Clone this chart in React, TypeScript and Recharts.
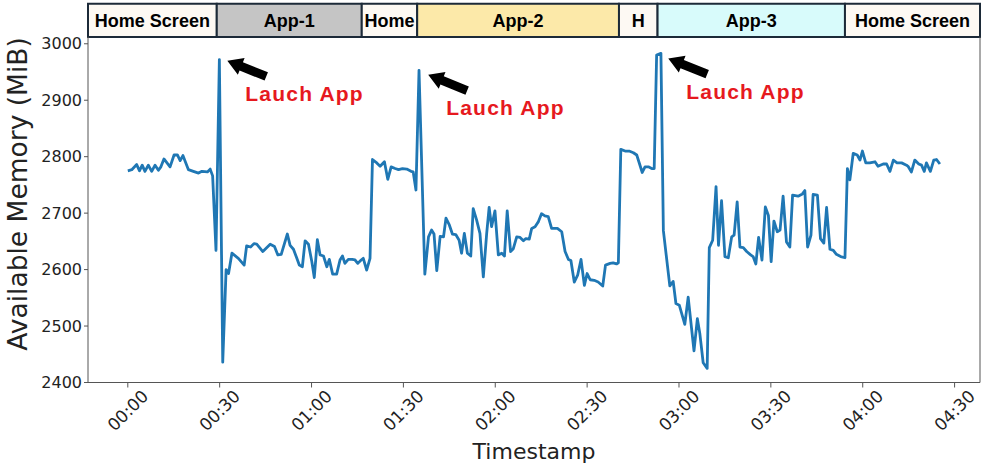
import { Label, Line, LineChart, ReferenceArea, ReferenceDot, ReferenceLine, XAxis, YAxis } from "recharts";

// sample time (s) and available memory (MiB)
const times = [
  0, 1.3, 2.9, 3.8, 4.7, 5.6, 6.7, 7.8, 8.9, 10.0, 10.8, 11.8, 13.8, 15.1, 16.2, 17.1, 18.0, 19.8, 21.4, 23.1,
  24.2, 26.0, 26.9, 27.7, 28.8, 29.9, 31.0, 32.1, 32.9, 34.0, 36.1, 38.0, 38.8, 40.1, 41.2, 42.1, 44.1, 46.5, 47.9, 49.0,
  50.1, 51.1, 52.1, 53.0, 54.1, 55.2, 56.0, 57.0, 57.9, 59.0, 60.1, 60.9, 61.9, 62.8, 63.9, 65.0, 65.8, 66.9, 68.2, 69.3,
  70.1, 70.9, 72.0, 73.3, 74.2, 75.1, 76.2, 76.9, 78.0, 79.1, 79.9, 81.3, 82.4, 83.8, 84.9, 86.0, 87.3, 88.4, 89.7, 91.1,
  92.5, 93.2, 94.1, 95.1, 97.0, 98.2, 99.2, 100.0, 100.9, 102.0, 103.1, 103.9, 105.0, 106.0, 107.1, 108.2, 109.0, 109.9, 110.9, 112.0,
  112.8, 113.9, 115.0, 116.1, 117.2, 118.0, 118.8, 119.9, 121.0, 122.1, 123.0, 123.9, 125.0, 125.9, 127.0, 128.1, 129.2, 130.0, 131.1, 131.9,
  133.0, 134.1, 135.1, 136.2, 137.3, 138.4, 140.3, 141.7, 142.8, 143.9, 144.7, 145.8, 146.9, 148.0, 149.1, 150.0, 151.0, 152.3, 153.6, 155.1,
  156.0, 157.5, 158.5, 159.6, 160.2, 161.0, 162.4, 163.7, 165.1, 166.2, 166.9, 168.0, 168.9, 170.0, 171.1, 171.9, 172.7, 174.1, 174.9, 177.0,
  178.1, 179.0, 180.1, 181.9, 183.0, 184.9, 186.0, 186.8, 187.9, 189.2, 189.9, 191.0, 192.1, 192.9, 193.9, 195.0, 196.1, 197.2, 198.0, 199.0,
  199.9, 201.0, 202.1, 203.4, 204.2, 205.1, 206.0, 207.1, 208.2, 209.2, 210.1, 211.0, 212.1, 213.0, 214.0, 215.1, 216.2, 217.1, 218.9, 220.3,
  221.1, 222.0, 223.1, 223.8, 225.2, 226.2, 227.3, 228.2, 229.3, 230.4, 231.4, 232.8, 234.2, 235.0, 235.8, 236.9, 238.2, 239.1, 239.9, 241.0,
  242.3, 244.0, 245.0, 246.7, 247.8, 248.9, 250.0, 251.2, 252.7, 254.3, 254.8, 255.9, 257.0, 258.3, 259.2, 260.1, 260.8, 262.1, 263.2, 264.1,
  265.2,
];

const memory = [
  2775, 2777, 2786, 2775, 2785, 2774, 2785, 2774, 2785, 2776, 2782, 2796, 2782, 2803, 2803, 2793, 2802, 2777, 2774, 2771,
  2774, 2773, 2778, 2766, 2634, 2972, 2436, 2600, 2593, 2629, 2620, 2608, 2642, 2640, 2646, 2645, 2632, 2645, 2641, 2626,
  2627, 2645, 2663, 2643, 2636, 2620, 2608, 2605, 2651, 2645, 2614, 2586, 2653, 2626, 2624, 2605, 2618, 2592, 2592, 2617,
  2624, 2611, 2618, 2618, 2617, 2611, 2617, 2620, 2599, 2620, 2795, 2789, 2783, 2791, 2760, 2782, 2779, 2777, 2779, 2778,
  2774, 2773, 2741, 2953, 2592, 2658, 2670, 2663, 2598, 2659, 2658, 2691, 2679, 2663, 2662, 2652, 2629, 2664, 2629, 2624,
  2708, 2688, 2664, 2587, 2664, 2710, 2676, 2704, 2626, 2629, 2624, 2704, 2632, 2637, 2658, 2657, 2651, 2655, 2654, 2673,
  2676, 2685, 2699, 2695, 2694, 2673, 2673, 2667, 2632, 2618, 2616, 2578, 2590, 2618, 2572, 2593, 2582, 2581, 2578, 2571,
  2608, 2611, 2612, 2610, 2612, 2813, 2810, 2810, 2807, 2803, 2791, 2772, 2782, 2782, 2779, 2779, 2980, 2983, 2669, 2571,
  2579, 2540, 2537, 2503, 2551, 2456, 2513, 2487, 2435, 2425, 2639, 2652, 2747, 2643, 2722, 2623, 2621, 2658, 2661, 2720,
  2640, 2639, 2632, 2626, 2623, 2610, 2657, 2617, 2711, 2696, 2614, 2686, 2667, 2670, 2730, 2649, 2640, 2732, 2730, 2734,
  2740, 2640, 2661, 2733, 2732, 2655, 2647, 2710, 2636, 2634, 2627, 2623, 2621, 2779, 2759, 2806, 2803, 2794, 2810, 2789,
  2789, 2791, 2783, 2787, 2787, 2774, 2794, 2789, 2789, 2785, 2783, 2773, 2794, 2787, 2785, 2774, 2789, 2774, 2794, 2795,
  2787,
];

const xTicks = [0, 30, 60, 90, 120, 150, 180, 210, 240, 270];
const yTicks = [2400, 2500, 2600, 2700, 2800, 2900, 3000];

// phase banner along the top
const bannerLabels = ["Home Screen", "App-1", "Home", "App-2", "H", "App-3", "Home Screen"];
const bannerStarts = [-13, 29.05, 76.4, 94.5, 160.4, 173.0, 234.2];
const bannerEnds = [29.05, 76.4, 94.5, 160.4, 173.0, 234.2, 278.3];
const bannerFills = ["#fdf9f3", "#c5c5c5", "#fdf9f3", "#fce9a9", "#fdf9f3", "#d8fbfb", "#fdf9f3"];

// arrow tips of the "Lauch App" notes
const launchTimes = [32.5, 98.1, 176.5];
const launchValues = [2970, 2945, 2974];

const X_MIN = -13;
const X_MAX = 278.3;
const Y_MIN = 2400;
const Y_MAX = 3012;
const BANNER_TOP = 3071;

const AXIS_FONT = '"DejaVu Sans", sans-serif';
const BOLD_FONT = '"Liberation Sans", Arial, sans-serif';

const rows = times.map((t, i) => ({ t, mem: memory[i] }));

const pad = (n: number) => String(n).padStart(2, "0");
const fmtTime = (s: number) => `${pad(Math.floor(s / 60))}:${pad(s % 60)}`;

function XTick({ x, y, payload }: any) {
  return (
    <g transform={`translate(${x},${y + 21})`}>
      <text transform="rotate(-45)" textAnchor="middle" dominantBaseline="central" fontSize={17} fill="#222" fontFamily={AXIS_FONT}>
        {fmtTime(payload.value)}
      </text>
    </g>
  );
}

function LaunchNote({ cx, cy }: any) {
  return (
    <g>
      <polygon transform={`translate(${cx},${cy}) rotate(22)`} points="0,0 15,-9 15,-4.5 42,-4.5 42,4.5 15,4.5 15,9" fill="#000" />
      <text x={cx + 18} y={cy + 40.5} fill="#e6191e" fontSize={21} fontWeight={700} letterSpacing={1.2} fontFamily={BOLD_FONT}>
        Lauch App
      </text>
    </g>
  );
}

export default function App() {
  return (
    <div style={{ position: "absolute", left: 0, top: 0, width: 986, height: 470, background: "#fff" }}>
      <LineChart width={986} height={470} data={rows} margin={{ top: 37, right: 6, bottom: 0, left: 0 }}>
        <XAxis
          dataKey="t"
          type="number"
          domain={[X_MIN, X_MAX]}
          ticks={xTicks}
          allowDataOverflow
          height={87.5}
          tickSize={5}
          stroke="#555"
          tick={<XTick />}
        >
          <Label
            content={() => (
              <text x={534} y={459} textAnchor="middle" fontSize={22} fill="#222" fontFamily={AXIS_FONT}>
                Timestamp
              </text>
            )}
          />
        </XAxis>
        <YAxis
          type="number"
          domain={[Y_MIN, Y_MAX]}
          ticks={yTicks}
          allowDataOverflow
          width={88}
          tickSize={4}
          stroke="#555"
          tick={{ fontSize: 16, fill: "#222", fontFamily: AXIS_FONT }}
        >
          <Label
            content={() => (
              <text
                x={17}
                y={194}
                transform="rotate(-90, 17, 194)"
                textAnchor="middle"
                dominantBaseline="central"
                fontSize={26.5}
                fill="#222"
                fontFamily={AXIS_FONT}
              >
                Available Memory (MiB)
              </text>
            )}
          />
        </YAxis>
        <ReferenceLine x={X_MAX} stroke="#555" strokeWidth={1} ifOverflow="visible" />
        {bannerLabels.map((label, i) => (
          <ReferenceArea
            key={i}
            x1={bannerStarts[i]}
            x2={bannerEnds[i]}
            y1={Y_MAX}
            y2={BANNER_TOP}
            ifOverflow="visible"
            fill={bannerFills[i]}
            fillOpacity={1}
            stroke="#1c2a38"
            strokeWidth={2}
            label={{ value: label, position: "center", fill: "#000", fontSize: 18, fontWeight: 700, fontFamily: BOLD_FONT }}
          />
        ))}
        <Line
          dataKey="mem"
          type="linear"
          stroke="#1f77b4"
          strokeWidth={2.8}
          strokeLinejoin="round"
          dot={false}
          isAnimationActive={false}
        />
        {launchTimes.map((t, i) => (
          <ReferenceDot key={i} x={t} y={launchValues[i]} ifOverflow="visible" shape={<LaunchNote />} />
        ))}
      </LineChart>
    </div>
  );
}
